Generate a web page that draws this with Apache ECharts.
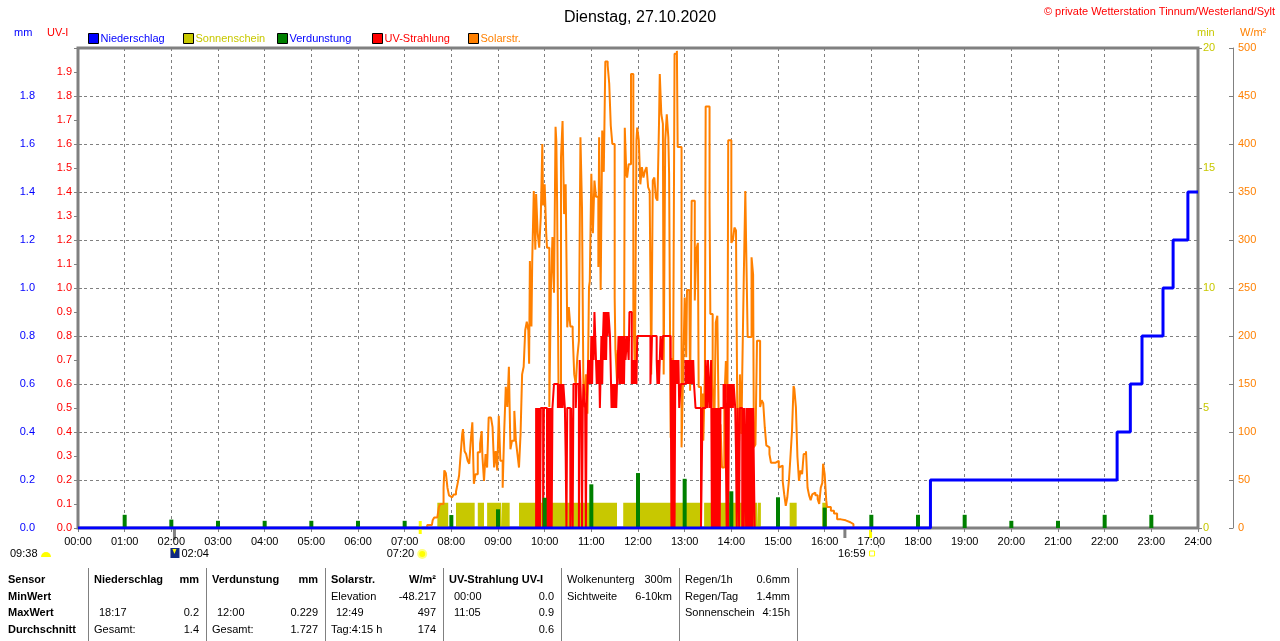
<html lang="de">
<head>
    <meta charset="UTF-8">
    <title>Dienstag, 27.10.2020</title>
    <script src="https://cdn.jsdelivr.net/npm/echarts@6/dist/echarts.min.js"></script>
</head>
<style>
    html, body { margin: 0; padding: 0; background: #fff; }
    #container { width: 1280px; height: 641px; }
</style>
<body>
<div id="container"></div>
<script>
    // Zeit in Minuten seit 00:00
    var niederschlag = [[0, 0], [1096, 0.2], [1336, 0.4], [1353, 0.6], [1368, 0.8], [1395, 1.0], [1408, 1.2], [1427, 1.4], [1440, 1.4]];

    var sonnenschein = [[0, 0], [462, 1.05], [476, 0], [486, 1.05], [510, 0], [514, 1.05], [522, 0], [526, 1.05], [544, 0],
        [545, 1.05], [555, 0], [567, 1.05], [693, 0], [701, 1.05], [800, 0], [805, 1.05], [873, 0], [874, 1.05], [878, 0],
        [915, 1.05], [924, 0], [957, 1.05], [963, 0], [1440, 0]];

    var verdunstungZeit = [60, 120, 180, 240, 300, 360, 420, 480, 540, 600, 660, 720, 780, 840, 900, 960, 1020, 1080, 1140, 1200, 1260, 1320, 1380];
    var verdunstungWert = [0.055, 0.035, 0.03, 0.03, 0.03, 0.03, 0.03, 0.054, 0.078, 0.126, 0.182, 0.229, 0.205, 0.153, 0.128, 0.085, 0.055, 0.055, 0.055, 0.03, 0.03, 0.055, 0.055];

    var uvStrahlung = [[0, 0], [589, 0.5], [590, 0], [591, 0.5], [592, 0], [593, 0.5], [594, 0], [595, 0.5], [598, 0], [599, 0.5], [603, 0],
        [604, 0.5], [605, 0], [606, 0.5], [607, 0], [608, 0.5], [609, 0], [610, 0.5], [612, 0.6], [617, 0.5], [618, 0.6], [619, 0.5],
        [620, 0.6], [621, 0.5], [622, 0.6], [623, 0.5], [624, 0.6], [626, 0.5], [627, 0.3], [628, 0], [629, 0.5], [633, 0], [634, 0.5],
        [636, 0], [637, 0.6], [640, 0.5], [641, 0.6], [644, 0], [645, 0.7], [647, 0.5], [648, 0], [649, 0.5], [650, 0.6], [652, 0.5],
        [653, 0], [654, 0.5], [656, 0.7], [657, 0.6], [658, 0.7], [659, 0.6], [660, 0.8], [661, 0.6], [662, 0.8], [663, 0.7], [664, 0.9],
        [666, 0.7], [667, 0.6], [668, 0.7], [669, 0.6], [670, 0.7], [671, 0.5], [673, 0.8], [674, 0.6], [675, 0.8], [676, 0.9], [677, 0.7],
        [678, 0.9], [679, 0.7], [680, 0.9], [681, 0.8], [682, 0.9], [684, 0.8], [686, 0.5], [687, 0.6], [688, 0.5], [689, 0.6], [690, 0.5],
        [691, 0.6], [692, 0.5], [693, 0.6], [695, 0.8], [696, 0.6], [697, 0.8], [698, 0.6], [699, 0.8], [700, 0.6], [701, 0.8], [702, 0.6],
        [703, 0.8], [704, 0.7], [706, 0.8], [708, 0.7], [709, 0.9], [712, 0.6], [713, 0.7], [714, 0.6], [715, 0.7], [716, 0.6], [717, 0.7],
        [718, 0.6], [719, 0.8], [736, 0.6], [738, 0.8], [744, 0.7], [745, 0.6], [746, 0.7], [747, 0.6], [748, 0.7], [749, 0.8], [751, 0.7],
        [752, 0.8], [762, 0.7], [763, 0], [764, 0.7], [765, 0], [766, 0.7], [767, 0], [768, 0.7], [769, 0.6], [770, 0.7], [771, 0.6],
        [772, 0.7], [773, 0.5], [775, 0.6], [781, 0.7], [782, 0.6], [783, 0.7], [784, 0.6], [785, 0.7], [786, 0.6], [787, 0.7], [788, 0.6],
        [789, 0.7], [790, 0.6], [791, 0.7], [792, 0.6], [794, 0.5], [801, 0], [803, 0.5], [807, 0.7], [809, 0.5], [810, 0.7], [812, 0.5],
        [814, 0.7], [815, 0], [816, 0.5], [817, 0], [818, 0.5], [819, 0], [820, 0.5], [821, 0], [822, 0.5], [823, 0], [824, 0.5], [825, 0],
        [826, 0.5], [830, 0.6], [831, 0.5], [832, 0.6], [834, 0], [835, 0.6], [836, 0], [837, 0.6], [838, 0.5], [839, 0.6], [840, 0.5],
        [841, 0.6], [842, 0.5], [843, 0.6], [845, 0.5], [846, 0.3], [847, 0], [848, 0.5], [850, 0], [851, 0.5], [854, 0], [855, 0.5],
        [856, 0], [857, 0.5], [859, 0], [860, 0.5], [861, 0], [862, 0.5], [863, 0], [864, 0.5], [865, 0], [866, 0.5], [867, 0], [868, 0.5],
        [870, 0], [880, 0]];

    var solarstr = [[446, 0], [449, 3], [455, 5], [456, 8], [458, 11], [462, 11], [464, 22], [466, 25], [470, 42], [471, 60], [473, 57],
        [475, 42], [477, 34], [479, 32], [481, 34], [483, 35], [486, 38], [488, 46], [490, 55], [492, 77], [494, 98], [495, 103], [497, 80],
        [499, 77], [501, 70], [503, 67], [505, 91], [507, 110], [509, 46], [511, 56], [514, 79], [517, 88], [519, 101], [520, 74], [522, 49],
        [524, 77], [526, 63], [528, 115], [531, 113], [533, 105], [535, 63], [537, 80], [539, 60], [541, 117], [543, 70], [546, 42], [548, 101],
        [550, 147], [552, 126], [554, 168], [556, 82], [558, 91], [561, 122], [563, 91], [565, 77], [567, 63], [569, 98], [571, 160], [573, 168],
        [575, 206], [577, 215], [579, 206], [580, 171], [581, 278], [583, 210], [584, 278], [586, 351], [588, 290], [589, 348], [591, 307],
        [593, 292], [595, 324], [597, 400], [598, 336], [600, 358], [602, 307], [603, 292], [606, 126], [608, 248], [610, 303], [612, 245],
        [614, 418], [615, 403], [616, 340], [618, 126], [621, 386], [623, 424], [625, 327], [627, 358], [629, 209], [631, 230], [633, 210],
        [636, 202], [638, 160], [640, 150], [642, 178], [644, 195], [646, 407], [648, 334], [650, 126], [651, 133], [653, 160], [655, 119],
        [657, 251], [658, 257], [660, 369], [662, 307], [664, 362], [666, 345], [669, 272], [670, 407], [672, 248], [674, 414], [676, 371],
        [678, 486], [681, 482], [683, 463], [685, 419], [687, 400], [690, 240], [691, 185], [693, 153], [694, 185], [696, 160], [698, 199],
        [700, 150], [702, 160], [703, 417], [705, 369], [706, 365], [708, 379], [711, 473], [714, 230], [716, 160], [718, 404], [719, 417],
        [721, 404], [723, 358], [725, 376], [727, 365], [729, 372], [731, 376], [733, 355], [735, 351], [737, 160], [739, 362], [741, 365],
        [743, 344], [745, 341], [747, 421], [748, 473], [750, 431], [752, 421], [753, 160], [755, 404], [757, 431], [759, 407], [760, 369],
        [762, 94], [763, 177], [765, 126], [767, 494], [770, 497], [771, 397], [776, 84], [778, 160], [780, 240], [782, 178], [783, 248],
        [786, 245], [787, 143], [789, 341], [793, 237], [795, 290], [797, 297], [798, 147], [801, 126], [803, 140], [804, 91], [806, 160],
        [807, 439], [812, 337], [813, 223], [816, 150], [818, 98], [820, 214], [822, 221], [824, 98], [826, 108], [828, 63], [831, 133],
        [833, 174], [835, 136], [836, 404], [840, 297], [842, 300], [844, 313], [846, 310], [848, 77], [850, 91], [851, 160], [853, 98],
        [854, 160], [856, 261], [858, 351], [859, 297], [861, 199], [866, 282], [868, 264], [869, 84], [871, 87], [873, 195], [877, 126],
        [879, 133], [881, 130], [883, 105], [885, 86], [887, 84], [889, 77], [891, 68], [897, 67], [899, 70], [901, 63], [903, 65], [906, 49],
        [908, 35], [910, 23], [912, 32], [914, 49], [916, 74], [918, 101], [920, 148], [921, 145], [923, 126], [925, 74], [927, 49], [929, 60],
        [931, 56], [933, 77], [936, 80], [938, 42], [940, 34], [942, 29], [944, 35], [946, 37], [948, 34], [951, 30], [953, 25], [955, 42],
        [957, 47], [958, 67], [960, 56], [962, 29], [963, 22], [968, 18], [972, 15], [976, 9], [981, 8], [987, 6], [993, 4], [997, 1], [999, 0]];

    // Sonne / Mond Zeiten
    var sonneZeiten = [440, 1019];
    var mondZeiten = [124, 986];

    // Tabelle unten
    var sensorZeilen = ['Sensor', 'MinWert', 'MaxWert', 'Durchschnitt'];
    var tabNiederschlag = [['Niederschlag', 'mm'], ['', ''], ['18:17', '0.2'], ['Gesamt:', '1.4']];
    var tabVerdunstung = [['Verdunstung', 'mm'], ['', ''], ['12:00', '0.229'], ['Gesamt:', '1.727']];
    var tabSolar = [['Solarstr.', 'W/m²'], ['Elevation', '-48.217'], ['12:49', '497'], ['Tag:4:15 h', '174']];
    var tabUV = [['UV-Strahlung UV-I', ''], ['00:00', '0.0'], ['11:05', '0.9'], ['', '0.6']];
    var tabWolken = [['Wolkenunterg', '300m'], ['Sichtweite', '6-10km'], ['', ''], ['', '']];
    var tabRegen = [['Regen/1h', '0.6mm'], ['Regen/Tag', '1.4mm'], ['Sonnenschein', '4:15h'], ['', '']];

    var FONT = 'Liberation Sans, Arial, sans-serif';
    var GRAU = '#808080';

    var chart = echarts.init(document.getElementById('container'));

    function hhmm(v)
    {
        var h = Math.round(v / 60);
        return (h < 10 ? '0' : '') + h + ':00';
    }

    var legendNames = [['Niederschlag', '#0000ff'], ['Sonnenschein', '#c8c800'], ['Verdunstung', '#0000ff'], ['UV-Strahlung', '#ff0000'], ['Solarstr.', '#ff8000']];
    var legendLeft = [88, 183, 277, 372, 468];
    var legends = legendNames.map(function (l, i)
    {
        return {
            data: [l[0]], left: legendLeft[i], top: 33, padding: 0, icon: 'rect', itemWidth: 10, itemHeight: 10, itemGap: 4,
            itemStyle: {borderColor: '#000', borderWidth: 1},
            textStyle: {color: l[1], fontSize: 11, fontFamily: FONT, padding: [0, 0, 0, -3]},
            selectedMode: false
        };
    });

    var option = {
        animation: false,
        title: {
            text: 'Dienstag, 27.10.2020', left: 'center', top: 5,
            textStyle: {fontSize: 16, fontWeight: 'normal', color: '#000', fontFamily: FONT}
        },
        legend: legends,
        grid: {left: 78, right: 82, top: 48, bottom: 113, show: true, borderColor: GRAU, borderWidth: 3},
        xAxis: {
            type: 'value', min: 0, max: 1440, interval: 60,
            axisLine: {lineStyle: {color: GRAU, width: 2}},
            axisTick: {length: 4, lineStyle: {color: GRAU}},
            axisLabel: {color: '#000', fontSize: 11, fontFamily: FONT, margin: 8, formatter: hhmm, showMinLabel: true, showMaxLabel: true},
            splitLine: {show: true, lineStyle: {color: GRAU, type: [3, 3]}}
        },
        yAxis: [
            {   // mm
                type: 'value', position: 'left', offset: 38, min: 0, max: 2, interval: 0.2,
                axisLine: {show: true, lineStyle: {color: GRAU, width: 1}},
                axisTick: {show: true, inside: true, length: 4, lineStyle: {color: GRAU}},
                axisLabel: {color: '#0000ff', fontSize: 11, fontFamily: FONT, margin: 5,
                    formatter: function (v) { return v >= 2 ? '' : v.toFixed(1); }},
                splitLine: {show: true, lineStyle: {color: GRAU, type: [3, 3]}}
            },
            {   // UV-I
                type: 'value', position: 'left', offset: 0, min: 0, max: 2, interval: 0.1,
                axisLine: {show: false},
                axisTick: {show: true, length: 4, lineStyle: {color: GRAU}},
                axisLabel: {color: '#ff0000', fontSize: 11, fontFamily: FONT, margin: 6,
                    formatter: function (v) { return v >= 1.99 ? '' : v.toFixed(1); }},
                splitLine: {show: false}
            },
            {   // min
                type: 'value', position: 'right', offset: 0, min: 0, max: 20, interval: 5,
                axisLine: {show: false},
                axisTick: {show: true, length: 4, lineStyle: {color: GRAU}},
                axisLabel: {color: '#c8c800', fontSize: 11, fontFamily: FONT, margin: 5},
                splitLine: {show: false}
            },
            {   // W/m²
                type: 'value', position: 'right', offset: 35, min: 0, max: 500, interval: 50,
                axisLine: {show: true, lineStyle: {color: GRAU, width: 1}},
                axisTick: {show: true, inside: true, length: 4, lineStyle: {color: GRAU}},
                axisLabel: {color: '#ff8000', fontSize: 11, fontFamily: FONT, margin: 5},
                splitLine: {show: false}
            }
        ],
        series: [
            {
                name: 'Sonnenschein', type: 'line', yAxisIndex: 2, step: 'end', showSymbol: false, z: 1,
                color: '#c8c800', lineStyle: {width: 0}, areaStyle: {color: '#c8c800', opacity: 1},
                data: sonnenschein
            },
            {
                name: 'Solarstr.', type: 'line', yAxisIndex: 3, step: 'end', showSymbol: false, z: 2,
                color: '#ff8000', lineStyle: {width: 2, color: '#ff8000'},
                data: solarstr
            },
            {
                name: 'UV-Strahlung', type: 'line', yAxisIndex: 1, step: 'end', showSymbol: false, z: 3,
                color: '#ff0000', lineStyle: {width: 2, color: '#ff0000'},
                data: uvStrahlung
            },
            {
                name: 'Verdunstung', type: 'bar', yAxisIndex: 0, barWidth: 4, z: 4,
                color: '#008000', itemStyle: {color: '#008000'},
                data: verdunstungZeit.map(function (t, i) { return [t, verdunstungWert[i]]; })
            },
            {
                name: 'Niederschlag', type: 'line', yAxisIndex: 0, step: 'end', showSymbol: false, z: 5,
                color: '#0000ff', lineStyle: {width: 3, color: '#0000ff'},
                data: niederschlag
            }
        ]
    };

    chart.setOption(option);

    // Beschriftungen, Marker und Tabelle
    function px(t) { return chart.convertToPixel({xAxisIndex: 0}, t); }

    function txt(x, y, s, opt)
    {
        opt = opt || {};
        return {
            type: 'text', x: x, y: y, silent: true,
            style: {
                text: s, fill: opt.color || '#000', font: (opt.bold ? 'bold ' : '') + (opt.size || 11) + 'px ' + FONT,
                align: opt.align || 'left', verticalAlign: 'middle'
            }
        };
    }

    var g = [];
    g.push(txt(1275, 12, '© private Wetterstation Tinnum/Westerland/Sylt', {color: '#ff0000', align: 'right'}));
    g.push(txt(14, 33, 'mm', {color: '#0000ff'}));
    g.push(txt(47, 33, 'UV-I', {color: '#ff0000'}));
    g.push(txt(1197, 33, 'min', {color: '#c8c800'}));
    g.push(txt(1240, 33, 'W/m²', {color: '#ff8000'}));

    // Mond
    mondZeiten.forEach(function (t, i)
    {
        g.push({type: 'rect', shape: {x: px(t) - 1.5, y: 529, width: 3, height: i === 0 ? 11 : 9}, style: {fill: GRAU}, silent: true});
    });
    // Sonne
    sonneZeiten.forEach(function (t, i)
    {
        g.push({type: 'rect', shape: {x: px(t) - 1.5, y: i === 0 ? 521 : 530, width: 3, height: i === 0 ? 13 : 8}, style: {fill: '#ffff00'}, silent: true});
    });

    g.push(txt(10, 554, '09:38'));
    g.push({type: 'sector', shape: {cx: 46, cy: 557, r: 5, r0: 0, startAngle: Math.PI, endAngle: Math.PI * 2}, style: {fill: '#ffff00'}, silent: true});

    var xm = px(mondZeiten[0]);
    g.push({type: 'rect', shape: {x: xm - 4, y: 548, width: 9, height: 10}, style: {fill: '#102a80'}, silent: true});
    g.push({type: 'polygon', shape: {points: [[xm - 2, 549], [xm + 2, 549], [xm, 554]]}, style: {fill: '#ffff00'}, silent: true});
    g.push(txt(xm + 7, 554, '02:04'));

    var xs = px(sonneZeiten[0]);
    g.push(txt(xs - 6, 554, '07:20', {align: 'right'}));
    g.push({type: 'circle', shape: {cx: xs + 2, cy: 554, r: 4}, style: {fill: '#ffff00', stroke: '#ffff80', lineWidth: 2}, silent: true});

    var xu = px(sonneZeiten[1]);
    g.push(txt(xu - 5, 554, '16:59', {align: 'right'}));
    g.push({type: 'rect', shape: {x: xu - 1, y: 551, width: 5, height: 5}, style: {fill: 'none', stroke: '#ffff00', lineWidth: 1}, silent: true});
    g.push(txt(xu + 7, 550, '’', {size: 10}));

    // Tabelle
    var trennX = [88, 206, 325, 443, 561, 679, 797];
    var zeileY = [580, 597, 613, 630];
    trennX.forEach(function (x)
    {
        g.push({type: 'line', shape: {x1: x + 0.5, y1: 568, x2: x + 0.5, y2: 641}, style: {stroke: GRAU, lineWidth: 1}, silent: true});
    });
    sensorZeilen.forEach(function (s, r) { g.push(txt(8, zeileY[r], s, {bold: true})); });

    var gruppen = [tabNiederschlag, tabVerdunstung, tabSolar, tabUV, tabWolken, tabRegen];
    gruppen.forEach(function (gr, k)
    {
        var x0 = trennX[k], x1 = trennX[k + 1];
        var fett = k < 4;
        gr.forEach(function (zeile, r)
        {
            var kopf = (r === 0 && fett);
            var einzug = /^\d\d:\d\d$/.test(zeile[0]) ? 5 : 0;
            if (zeile[0]) g.push(txt(x0 + 6 + einzug, zeileY[r], zeile[0], {bold: kopf}));
            if (zeile[1]) g.push(txt(x1 - 7, zeileY[r], zeile[1], {bold: kopf, align: 'right'}));
        });
    });

    chart.setOption({graphic: g});
</script>
</body>
</html>
